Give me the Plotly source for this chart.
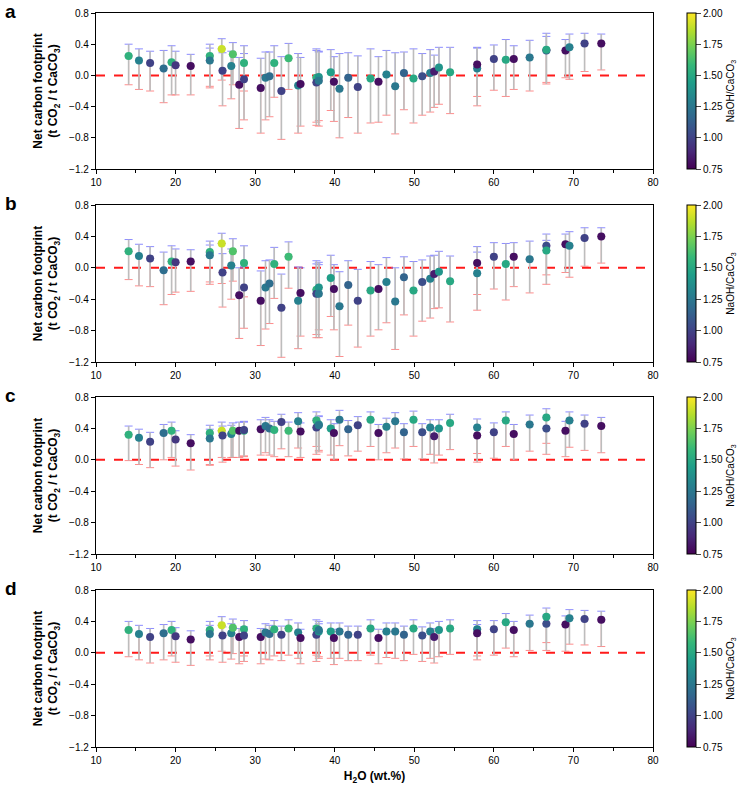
import numpy as np
import plotly.graph_objects as go

# ---------------- data ----------------
h2o = [14.1, 15.4, 16.8, 18.5, 19.5, 20.0, 21.9, 24.3, 24.3, 25.8,
       25.9, 27.0, 27.2, 28.0, 28.6, 28.6, 30.7, 31.3, 31.8, 32.4,
       33.3, 34.2, 35.4, 35.7, 37.7, 37.7, 38.0, 38.0, 39.5, 39.9,
       40.6, 41.7, 42.9, 44.5, 45.5, 46.5, 47.6, 48.7, 49.9, 51.0,
       52.0, 52.5, 53.1, 54.5, 57.9, 57.9, 60.0, 61.5, 62.5, 64.5,
       66.6, 66.6, 69.0, 69.5, 71.4, 73.5]
naoh_ratio = [1.55, 1.3, 1.0, 1.2, 1.55, 0.95, 0.8, 1.55, 1.25, 1.9,
              1.0, 1.3, 1.65, 0.8, 1.55, 1.0, 0.8, 1.25, 1.2, 1.55,
              1.0, 1.6, 1.3, 0.8, 1.55, 1.0, 1.4, 1.25, 1.45, 0.8,
              1.25, 1.15, 1.0, 1.5, 0.8, 1.3, 1.25, 1.15, 1.5, 1.05,
              1.3, 0.85, 1.4, 1.5, 1.3, 0.8, 1.0, 1.5, 0.8, 1.25,
              1.05, 1.5, 0.8, 1.3, 1.0, 0.8]

y_a = [0.25, 0.19, 0.16, 0.09, 0.17, 0.13, 0.12, 0.25, 0.19, 0.34,
       0.06, 0.12, 0.27, -0.12, 0.16, -0.05, -0.16, -0.03, -0.01, 0.16,
       -0.20, 0.22, -0.13, -0.11, -0.03, -0.09, -0.02, -0.07, 0.04, -0.08,
       -0.17, -0.03, -0.15, -0.04, -0.08, 0.01, -0.14, 0.03, -0.04, -0.01,
       0.03, 0.05, 0.10, 0.04, 0.09, 0.14, 0.21, 0.20, 0.21, 0.23,
       0.32, 0.33, 0.32, 0.36, 0.41, 0.41]
up_a = [0.40, 0.34, 0.31, 0.32, 0.38, 0.31, 0.27, 0.40, 0.35, 0.47,
        0.29, 0.31, 0.42, 0.23, 0.38, 0.28, 0.22, 0.30, 0.30, 0.38,
        0.24, 0.41, 0.28, 0.23, 0.34, 0.32, 0.31, 0.30, 0.33, 0.24,
        0.28, 0.29, 0.25, 0.34, 0.24, 0.32, 0.29, 0.30, 0.34, 0.28,
        0.33, 0.26, 0.36, 0.36, 0.36, 0.35, 0.39, 0.46, 0.38, 0.45,
        0.54, 0.50, 0.46, 0.53, 0.54, 0.53]
lo_a = [-0.12, -0.18, -0.20, -0.35, -0.25, -0.25, -0.25, -0.16, -0.14, -0.06,
        -0.39, -0.30, -0.12, -0.68, -0.20, -0.57, -0.74, -0.57, -0.53, -0.28,
        -0.82, -0.18, -0.74, -0.65, -0.60, -0.64, -0.58, -0.65, -0.45, -0.59,
        -0.80, -0.54, -0.74, -0.61, -0.60, -0.51, -0.75, -0.44, -0.61, -0.51,
        -0.47, -0.41, -0.37, -0.49, -0.27, -0.39, -0.19, -0.27, -0.18, -0.20,
        -0.11, -0.09, -0.03, -0.05, 0.05, 0.07]

y_b = [0.21, 0.15, 0.12, -0.03, 0.08, 0.07, 0.08, 0.20, 0.16, 0.31,
       -0.06, 0.03, 0.21, -0.35, 0.06, -0.25, -0.42, -0.25, -0.20, 0.05,
       -0.51, 0.14, -0.42, -0.32, -0.28, -0.33, -0.25, -0.33, -0.13, -0.27,
       -0.49, -0.22, -0.42, -0.29, -0.27, -0.18, -0.43, -0.12, -0.29, -0.18,
       -0.14, -0.08, -0.05, -0.17, -0.07, 0.06, 0.14, 0.05, 0.14, 0.11,
       0.28, 0.22, 0.30, 0.28, 0.38, 0.40]
up_b = [0.36, 0.30, 0.27, 0.20, 0.28, 0.24, 0.23, 0.34, 0.29, 0.44,
        0.18, 0.24, 0.37, 0.00, 0.28, 0.02, -0.04, 0.09, 0.10, 0.26,
        -0.08, 0.33, 0.01, 0.00, 0.09, 0.05, 0.07, 0.04, 0.16, 0.04,
        -0.05, 0.09, -0.02, 0.08, 0.04, 0.13, 0.00, 0.14, 0.08, 0.10,
        0.15, 0.16, 0.21, 0.15, 0.20, 0.27, 0.32, 0.31, 0.32, 0.34,
        0.43, 0.35, 0.43, 0.46, 0.51, 0.51]
lo_b = [-0.15, -0.23, -0.24, -0.47, -0.34, -0.31, -0.30, -0.21, -0.18, -0.20,
        -0.50, -0.40, -0.17, -0.90, -0.37, -0.77, -0.99, -0.78, -0.71, -0.39,
        -1.14, -0.26, -1.03, -0.87, -0.85, -0.89, -0.79, -0.89, -0.62, -0.79,
        -1.13, -0.73, -1.01, -0.87, -0.79, -0.70, -1.04, -0.60, -0.87, -0.68,
        -0.64, -0.52, -0.51, -0.69, -0.54, -0.34, -0.27, -0.41, -0.24, -0.32,
        -0.09, -0.21, -0.06, -0.12, 0.02, 0.06]

y_c = [0.32, 0.28, 0.23, 0.34, 0.37, 0.26, 0.21, 0.34, 0.27, 0.37,
       0.31, 0.33, 0.37, 0.37, 0.37, 0.38, 0.39, 0.43, 0.40, 0.38,
       0.48, 0.37, 0.49, 0.36, 0.50, 0.41, 0.45, 0.44, 0.40, 0.34,
       0.51, 0.39, 0.44, 0.51, 0.34, 0.42, 0.49, 0.35, 0.51, 0.35,
       0.41, 0.30, 0.40, 0.47, 0.41, 0.31, 0.35, 0.50, 0.33, 0.45,
       0.40, 0.54, 0.37, 0.50, 0.46, 0.43]
up_c = [0.43, 0.39, 0.35, 0.45, 0.48, 0.37, 0.32, 0.44, 0.39, 0.48,
        0.43, 0.44, 0.47, 0.48, 0.48, 0.49, 0.51, 0.54, 0.51, 0.49,
        0.58, 0.48, 0.60, 0.47, 0.61, 0.52, 0.56, 0.55, 0.51, 0.46,
        0.63, 0.50, 0.55, 0.61, 0.45, 0.53, 0.60, 0.46, 0.62, 0.46,
        0.51, 0.41, 0.51, 0.58, 0.52, 0.42, 0.47, 0.61, 0.45, 0.57,
        0.52, 0.65, 0.49, 0.61, 0.57, 0.54]
lo_c = [-0.01, -0.06, -0.10, 0.00, 0.03, -0.08, -0.13, -0.07, -0.06, 0.03,
        -0.03, 0.03, 0.03, 0.03, 0.04, 0.05, 0.06, 0.09, 0.06, 0.04,
        0.14, 0.04, 0.15, 0.03, 0.17, 0.07, 0.12, 0.10, 0.06, 0.00,
        0.18, 0.05, 0.11, 0.17, 0.00, 0.09, 0.15, 0.01, 0.17, 0.01,
        0.07, -0.04, 0.06, 0.13, 0.08, -0.03, 0.02, 0.17, 0.00, 0.11,
        0.07, 0.21, 0.04, 0.16, 0.12, 0.09]

y_d = [0.29, 0.24, 0.20, 0.25, 0.29, 0.21, 0.17, 0.29, 0.24, 0.35,
       0.22, 0.25, 0.32, 0.20, 0.30, 0.22, 0.20, 0.26, 0.24, 0.30,
       0.23, 0.31, 0.26, 0.19, 0.31, 0.23, 0.27, 0.29, 0.27, 0.19,
       0.27, 0.23, 0.23, 0.31, 0.19, 0.27, 0.27, 0.23, 0.31, 0.22,
       0.27, 0.20, 0.29, 0.31, 0.30, 0.25, 0.30, 0.39, 0.29, 0.37,
       0.37, 0.46, 0.36, 0.44, 0.43, 0.42]
up_d = [0.40, 0.35, 0.31, 0.36, 0.40, 0.32, 0.28, 0.40, 0.35, 0.46,
        0.33, 0.37, 0.43, 0.31, 0.41, 0.33, 0.31, 0.37, 0.35, 0.41,
        0.34, 0.42, 0.38, 0.30, 0.42, 0.34, 0.37, 0.40, 0.38, 0.30,
        0.38, 0.34, 0.34, 0.42, 0.30, 0.38, 0.38, 0.34, 0.42, 0.33,
        0.38, 0.31, 0.40, 0.42, 0.41, 0.36, 0.41, 0.50, 0.40, 0.48,
        0.48, 0.57, 0.47, 0.55, 0.54, 0.53]
lo_d = [-0.05, -0.09, -0.13, -0.09, -0.04, -0.12, -0.16, -0.04, -0.09, 0.02,
        -0.12, -0.08, -0.01, -0.14, -0.04, -0.11, -0.14, -0.08, -0.09, -0.04,
        -0.10, -0.03, -0.07, -0.14, -0.03, -0.11, -0.07, -0.05, -0.07, -0.15,
        -0.07, -0.10, -0.10, -0.03, -0.14, -0.06, -0.07, -0.10, -0.02, -0.11,
        -0.07, -0.13, -0.05, -0.02, -0.04, -0.09, -0.03, 0.06, -0.05, 0.03,
        0.03, 0.13, 0.02, 0.11, 0.10, 0.08]

panel_labels = ["a", "b", "c", "d"]
x_ticks = [10, 20, 30, 40, 50, 60, 70, 80]
y_ticks = [-1.2, -0.8, -0.4, 0.0, 0.4, 0.8]
cbar_ticks = [0.75, 1.00, 1.25, 1.50, 1.75, 2.00]

panels = [(y_a, up_a, lo_a), (y_b, up_b, lo_b), (y_c, up_c, lo_c), (y_d, up_d, lo_d)]

# ---------------- layout geometry ----------------
W, H = 747, 791
ML, MR, MT, MB = 96, 94, 13, 44
plot_h = H - MT - MB
plot_w = W - ML - MR
px_rows = [(13, 169), (205, 362), (397, 554), (590, 747)]
domains = [[(H - MB - b) / plot_h, (H - MB - t) / plot_h] for t, b in px_rows]
domains = [[max(0, d0), min(1, d1)] for d0, d1 in domains]

FONT = "Liberation Sans, Arial, sans-serif"
fig = go.Figure()

for i, (yv, up, lo) in enumerate(panels):
    yv = np.array(yv); up = np.array(up); lo = np.array(lo)
    xa = "x" if i == 0 else f"x{i+1}"
    ya = "y" if i == 0 else f"y{i+1}"
    ca = "coloraxis" if i == 0 else f"coloraxis{i+1}"
    zeros = np.zeros_like(yv)
    # blue upper caps
    fig.add_trace(go.Scatter(x=h2o, y=yv, mode="markers", xaxis=xa, yaxis=ya,
                             marker=dict(size=1, opacity=0), showlegend=False, hoverinfo="skip",
                             error_y=dict(type="data", symmetric=False, array=up - yv, arrayminus=zeros,
                                          color="rgba(120,120,255,0.85)", thickness=1, width=4)))
    # red lower caps
    fig.add_trace(go.Scatter(x=h2o, y=yv, mode="markers", xaxis=xa, yaxis=ya,
                             marker=dict(size=1, opacity=0), showlegend=False, hoverinfo="skip",
                             error_y=dict(type="data", symmetric=False, array=zeros, arrayminus=yv - lo,
                                          color="rgba(255,120,120,0.85)", thickness=1, width=4)))
    # gray range line
    fig.add_trace(go.Scatter(x=h2o, y=yv, mode="markers", xaxis=xa, yaxis=ya,
                             marker=dict(size=1, opacity=0), showlegend=False, hoverinfo="skip",
                             error_y=dict(type="data", symmetric=False, array=up - yv, arrayminus=yv - lo,
                                          color="#bdbdbd", thickness=1.6, width=0)))
    # points
    fig.add_trace(go.Scatter(x=h2o, y=yv, mode="markers", xaxis=xa, yaxis=ya, showlegend=False,
                             marker=dict(size=8, color=naoh_ratio, coloraxis=ca, line=dict(width=0))))
    # zero reference line
    fig.add_shape(type="line", xref=f"{xa} domain", yref=ya, x0=0, x1=1, y0=0, y1=0,
                  line=dict(color="#ff1a1a", width=2, dash="dash"), layer="below")

    axis_common = dict(showline=True, linecolor="black", linewidth=1.3, mirror=True,
                       ticks="outside", ticklen=4, tickwidth=1, tickcolor="black",
                       showgrid=False, zeroline=False, tickfont=dict(size=10, color="black", family=FONT))
    xkey = "xaxis" if i == 0 else f"xaxis{i+1}"
    ykey = "yaxis" if i == 0 else f"yaxis{i+1}"
    xdict = dict(axis_common, domain=[0, 1], anchor=ya, range=[10, 80], tickvals=x_ticks,
                 minor=dict(dtick=5, tick0=10, ticks="outside", ticklen=3, tickcolor="black"))
    if i == 3:
        xdict["title"] = dict(text="<b>H<sub>2</sub>O (wt.%)</b>", font=dict(size=12, family=FONT, color="black"),
                              standoff=6)
    ydict = dict(axis_common, domain=domains[i], anchor=xa, range=[-1.2, 0.8], tickvals=y_ticks,
                 tickformat=".1f",
                 title=dict(text="<b>Net carbon footprint<br>(t CO<sub>2</sub> / t CaCO<sub>3</sub>)</b>",
                            font=dict(size=12, family=FONT, color="black"), standoff=8))
    fig.layout[xkey] = xdict
    fig.layout[ykey] = ydict
    d0, d1 = domains[i]
    fig.layout[ca] = dict(cmin=0.75, cmax=2.0, colorscale="Viridis",
                          colorbar=dict(x=(687 - ML) / plot_w, xanchor="left", xpad=0, ypad=0,
                                        y=(d0 + d1) / 2, yanchor="middle", len=d1 - d0, lenmode="fraction",
                                        thickness=9, outlinewidth=1, outlinecolor="black",
                                        tickvals=cbar_ticks, tickformat=".2f", ticks="outside", ticklen=5,
                                        ticksuffix="\u00a0\u00a0",
                                        tickfont=dict(size=10, family=FONT, color="black"),
                                        title=dict(text="NaOH/CaCO<sub>3</sub>", side="right",
                                                   font=dict(size=10, family=FONT, color="black"))))
    fig.add_annotation(text=f"<b>{panel_labels[i]}</b>", xref="paper", yref="paper",
                       x=(3 - ML) / plot_w, y=d1 + 14 / plot_h, xanchor="left", yanchor="top",
                       showarrow=False, font=dict(size=19, family=FONT, color="black"))

fig.update_layout(width=W, height=H, margin=dict(l=ML, r=MR, t=MT, b=MB, autoexpand=False),
                  paper_bgcolor="white", plot_bgcolor="white", font=dict(family=FONT, color="black"))

fig.write_html("out.html", config={"displayModeBar": False},
               post_script="document.body.style.margin='0';document.body.style.overflow='hidden';")
